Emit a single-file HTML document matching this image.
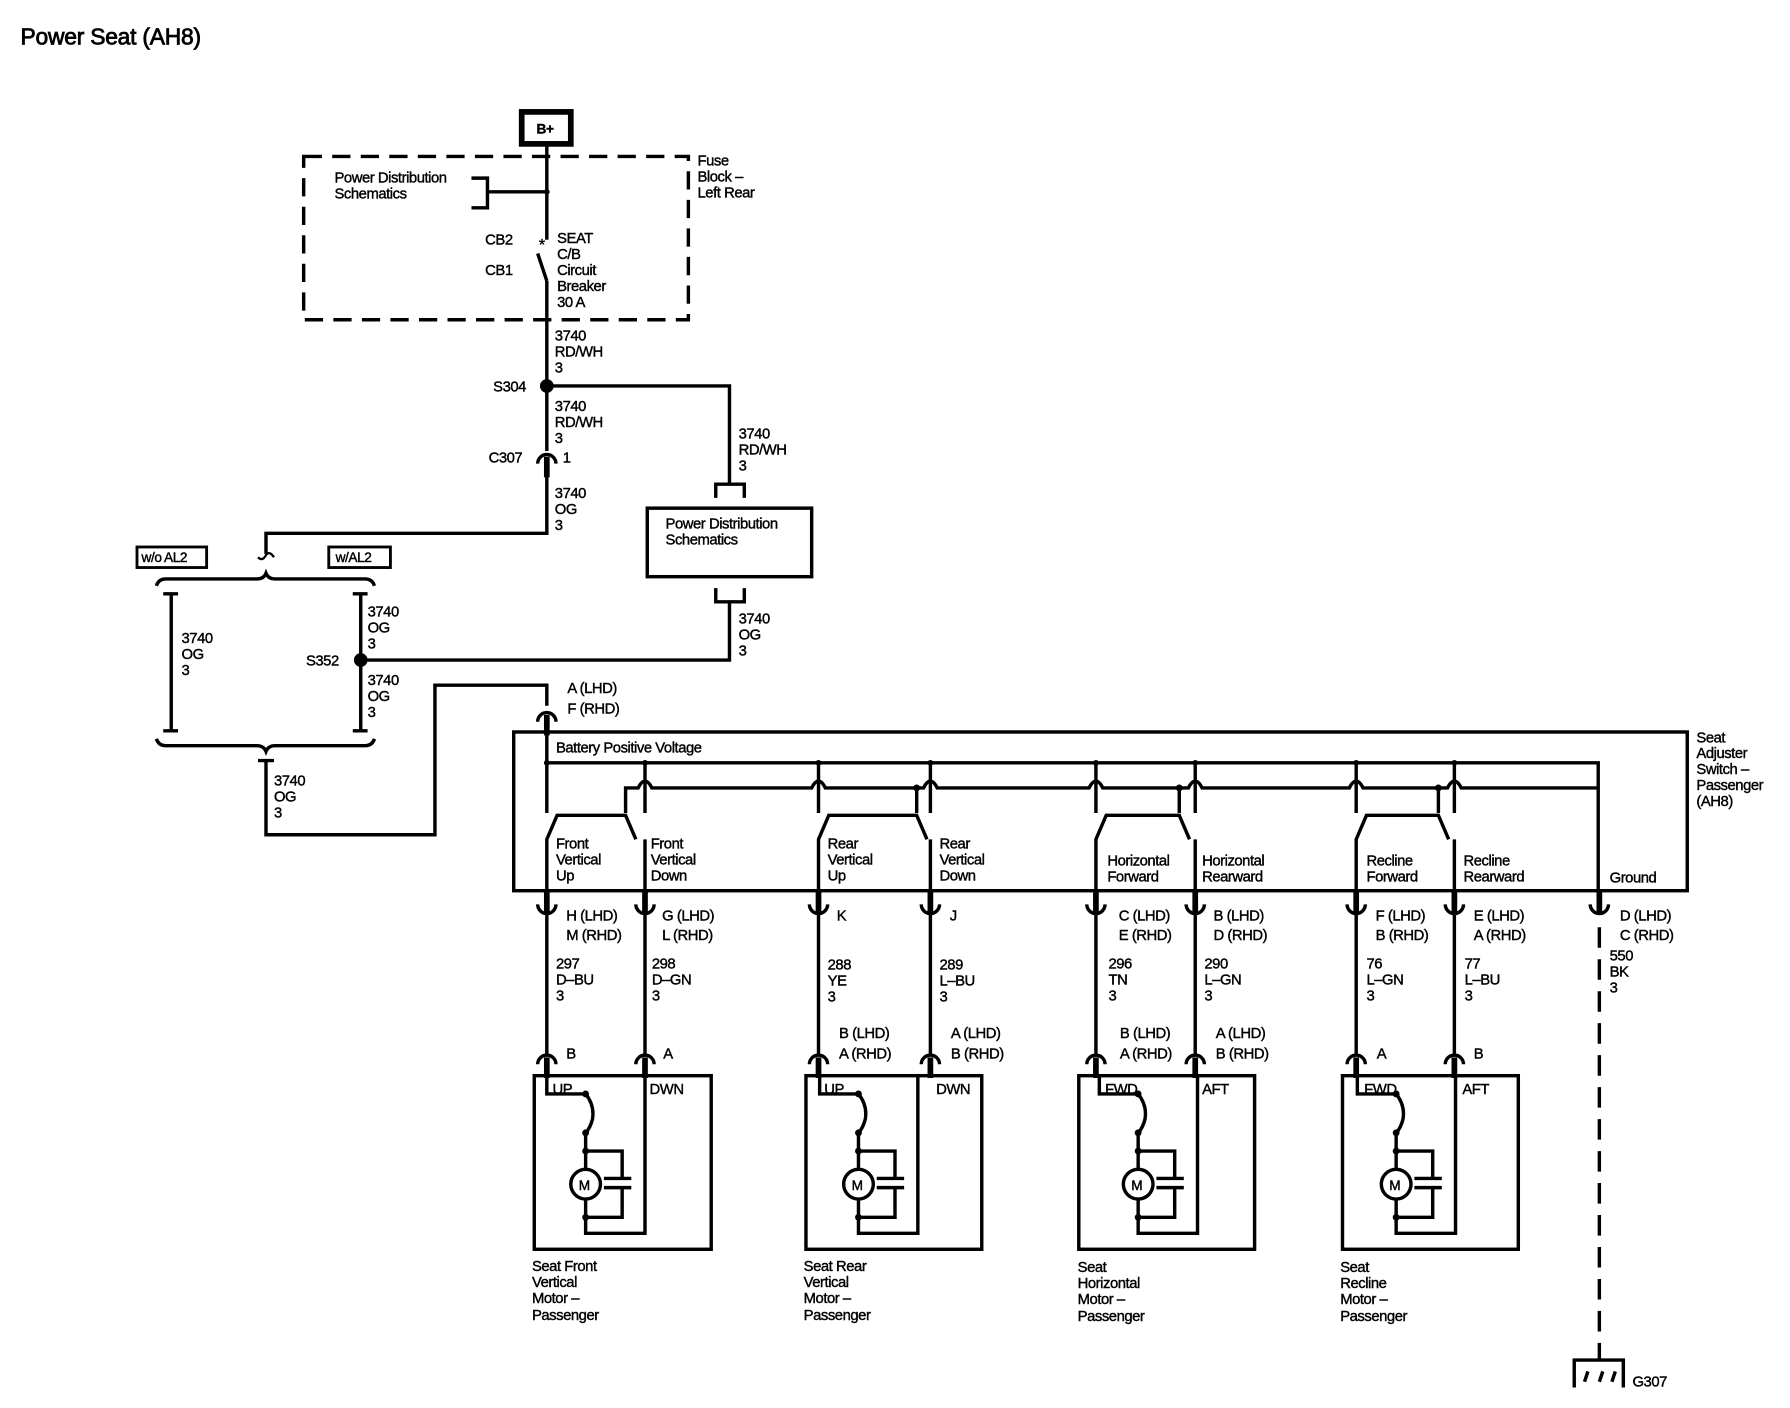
<!DOCTYPE html>
<html><head><meta charset="utf-8"><style>
html,body{margin:0;padding:0;background:#fff}
svg{display:block}
text{font-family:"Liberation Sans",sans-serif;font-size:13px;fill:#000;stroke:#000;stroke-width:0.35px;letter-spacing:-0.4px}
</style></head><body>
<svg width="1790" height="1408" viewBox="0 0 1568 1233" preserveAspectRatio="none" xmlns="http://www.w3.org/2000/svg">
<defs>
<g id="cd"><path d="M-8,-8 a8,8 0 0 0 16,0" fill="none" stroke="#000" stroke-width="3"/><line x1="0" y1="-20" x2="0" y2="0" stroke="#000" stroke-width="5"/></g>
<g id="cu"><path d="M-8,6 a8,8 0 0 1 16,0" fill="none" stroke="#000" stroke-width="3"/><line x1="0" y1="0" x2="0" y2="18" stroke="#000" stroke-width="5"/></g>
<g id="mot">
<path d="M11,0 V16 H45 q8,10 6,22 q-2,8 -6,12 V66 H77 V90 H69 M61,90 H85 M61,98 H85 M77,98 V124 H45 V66 M45,124 V138 H97 V0" fill="none" stroke="#000" stroke-width="3"/>
<circle cx="45" cy="95" r="13" fill="#fff" stroke="#000" stroke-width="3"/>
<text x="39" y="100" style="font-size:12px">M</text>
<circle cx="45" cy="66" r="3"/><circle cx="45" cy="124" r="3"/><circle cx="45" cy="50" r="3"/><circle cx="45" cy="16" r="3"/>
</g>
</defs>
<g stroke="#000" stroke-width="3" fill="none">
<rect x="457" y="98" width="43" height="28" stroke-width="5"/>
<line x1="479" y1="126" x2="479" y2="210"/>
<line x1="479" y1="246" x2="479" y2="395"/>
<line x1="471" y1="222" x2="479" y2="246"/>
<rect x="266" y="137" width="337" height="143" stroke-dasharray="16,9"/>
<path d="M413,156 H427 V182 H413 M427,168 H479"/>
<path d="M479,338 H639 V425"/>
<path d="M627,436 V424 H652 V436"/>
<rect x="567" y="445" width="144" height="60"/>
<path d="M627,515 V527 H652 V515"/>
<path d="M639,527 V578 H316"/>
<path d="M479,410 V467 H233 V485"/>
<path d="M226,488 q4,4 7,-2 q3,-4 7,2" stroke-width="2"/>
<rect x="120" y="479" width="61" height="18" stroke-width="2.5"/>
<rect x="288" y="479" width="54" height="18" stroke-width="2.5"/>
<path d="M137,513 q2,-6 8,-6 H225 q6,0 8,-5 q2,5 8,5 H320 q6,0 8,6"/>
<path d="M150,520 V640 M143,520 H156 M143,640 H156"/>
<path d="M316,520 V640 M309,520 H322 M309,640 H322"/>
<path d="M137,647 q2,6 8,6 H225 q6,0 8,5 q2,-5 8,-5 H320 q6,0 8,-6"/>
<path d="M233,665 V731 H381 V600 H479 V618"/>
<path d="M226,666 H240"/>
<rect x="450" y="641" width="1028" height="139"/>
<line x1="479" y1="635" x2="479" y2="712"/>
<path d="M479,668 H1400 V780"/>
<path d="M548,712 V690 H559 q6,-12 12,0 H711 q6,-12 12,0 H809 q6,-12 12,0 H954 q6,-12 12,0 H1041 q6,-12 12,0 H1182 q6,-12 12,0 H1268 q6,-12 12,0 H1400"/>
<path d="M803,690 V712 M1033,690 V712 M1260,690 V712"/>
<path d="M565,668 V712 M717,668 V712 M815,668 V712 M960,668 V712 M1047,668 V712 M1188,668 V712 M1274,668 V712"/>
<path d="M479,780 V735 L488,714 H548 L557,735 M565,735 V780"/>
<path d="M717,780 V735 L726,714 H803 L812,735 M815,735 V780"/>
<path d="M960,780 V735 L969,714 H1033 L1042,735 M1047,735 V780"/>
<path d="M1188,780 V735 L1197,714 H1260 L1269,735 M1274,735 V780"/>
<path d="M479,800 V925 M565,800 V925 M717,800 V925 M815,800 V925 M960,800 V925 M1047,800 V925 M1188,800 V925 M1274,800 V925"/>
<line x1="1401" y1="812" x2="1401" y2="1190" stroke-dasharray="18,10"/>
<path d="M1379,1215 V1191 H1422 V1215 M1388,1210 l3,-9 M1401,1210 l3,-9 M1412,1210 l3,-9"/>
<rect x="468" y="942" width="155" height="152"/>
<rect x="706" y="942" width="154" height="152"/>
<rect x="945" y="942" width="154" height="152"/>
<rect x="1176" y="942" width="154" height="152"/>
</g>
<circle cx="479" cy="168" r="2.5"/>
<text x="472" y="219" style="font-size:14px">*</text>
<circle cx="479" cy="338" r="6"/>
<circle cx="316" cy="578" r="6"/>
<g fill="#000"><circle cx="479" cy="668" r="2.5"/><circle cx="565" cy="668" r="2.5"/><circle cx="717" cy="668" r="2.5"/><circle cx="815" cy="668" r="2.5"/><circle cx="960" cy="668" r="2.5"/><circle cx="1047" cy="668" r="2.5"/><circle cx="1188" cy="668" r="2.5"/><circle cx="1274" cy="668" r="2.5"/><circle cx="803" cy="690" r="3"/><circle cx="1033" cy="690" r="3"/><circle cx="1260" cy="690" r="3"/></g>
<use href="#cu" x="479" y="400"/>
<use href="#cu" x="479" y="626"/>
<use href="#cd" x="479" y="800"/><use href="#cd" x="565" y="800"/><use href="#cd" x="717" y="800"/><use href="#cd" x="815" y="800"/>
<use href="#cd" x="960" y="800"/><use href="#cd" x="1047" y="800"/><use href="#cd" x="1188" y="800"/><use href="#cd" x="1274" y="800"/><use href="#cd" x="1401" y="800"/>
<use href="#cu" x="479" y="926"/><use href="#cu" x="565" y="926"/><use href="#cu" x="717" y="926"/><use href="#cu" x="815" y="926"/>
<use href="#cu" x="960" y="926"/><use href="#cu" x="1047" y="926"/><use href="#cu" x="1188" y="926"/><use href="#cu" x="1274" y="926"/>
<use href="#mot" x="468" y="942"/><use href="#mot" x="707" y="942"/><use href="#mot" x="952" y="942"/><use href="#mot" x="1178" y="942"/>

<text x="18" y="39" style="font-size:20px;letter-spacing:-0.2px;stroke-width:0.7px">Power Seat (AH8)</text>
<text x="470" y="117" style="font-size:12px;font-weight:bold">B+</text>
<text x="611" y="145">Fuse</text><text x="611" y="159">Block –</text><text x="611" y="173">Left Rear</text>
<text x="293" y="160">Power Distribution</text><text x="293" y="174">Schematics</text>
<text x="425" y="214">CB2</text><text x="425" y="241">CB1</text>
<text x="488" y="213">SEAT</text><text x="488" y="227">C/B</text><text x="488" y="241">Circuit</text><text x="488" y="255">Breaker</text><text x="488" y="269">30 A</text>
<text x="486" y="298">3740</text><text x="486" y="312">RD/WH</text><text x="486" y="326">3</text>
<text x="432" y="343">S304</text>
<text x="486" y="360">3740</text><text x="486" y="374">RD/WH</text><text x="486" y="388">3</text>
<text x="647" y="384">3740</text><text x="647" y="398">RD/WH</text><text x="647" y="412">3</text>
<text x="428" y="405">C307</text><text x="493" y="405">1</text>
<text x="486" y="436">3740</text><text x="486" y="450">OG</text><text x="486" y="464">3</text>
<text x="583" y="463">Power Distribution</text><text x="583" y="477">Schematics</text>
<text x="124" y="492" style="font-size:12px">w/o AL2</text><text x="294" y="492" style="font-size:12px">w/AL2</text>
<text x="159" y="563">3740</text><text x="159" y="577">OG</text><text x="159" y="591">3</text>
<text x="322" y="540">3740</text><text x="322" y="554">OG</text><text x="322" y="568">3</text>
<text x="268" y="583">S352</text>
<text x="322" y="600">3740</text><text x="322" y="614">OG</text><text x="322" y="628">3</text>
<text x="647" y="546">3740</text><text x="647" y="560">OG</text><text x="647" y="574">3</text>
<text x="240" y="688">3740</text><text x="240" y="702">OG</text><text x="240" y="716">3</text>
<text x="497" y="607">A (LHD)</text><text x="497" y="625">F (RHD)</text>
<text x="487" y="659">Battery Positive Voltage</text>
<text x="1486" y="650">Seat</text><text x="1486" y="664">Adjuster</text><text x="1486" y="678">Switch –</text><text x="1486" y="692">Passenger</text><text x="1486" y="706">(AH8)</text>
<text x="487" y="743">Front</text><text x="487" y="757">Vertical</text><text x="487" y="771">Up</text>
<text x="570" y="743">Front</text><text x="570" y="757">Vertical</text><text x="570" y="771">Down</text>
<text x="725" y="743">Rear</text><text x="725" y="757">Vertical</text><text x="725" y="771">Up</text>
<text x="823" y="743">Rear</text><text x="823" y="757">Vertical</text><text x="823" y="771">Down</text>
<text x="970" y="758">Horizontal</text><text x="970" y="772">Forward</text>
<text x="1053" y="758">Horizontal</text><text x="1053" y="772">Rearward</text>
<text x="1197" y="758">Recline</text><text x="1197" y="772">Forward</text>
<text x="1282" y="758">Recline</text><text x="1282" y="772">Rearward</text>
<text x="1410" y="773">Ground</text>
<text x="496" y="806">H (LHD)</text><text x="496" y="823">M (RHD)</text>
<text x="580" y="806">G (LHD)</text><text x="580" y="823">L (RHD)</text>
<text x="733" y="806">K</text><text x="832" y="806">J</text>
<text x="980" y="806">C (LHD)</text><text x="980" y="823">E (RHD)</text>
<text x="1063" y="806">B (LHD)</text><text x="1063" y="823">D (RHD)</text>
<text x="1205" y="806">F (LHD)</text><text x="1205" y="823">B (RHD)</text>
<text x="1291" y="806">E (LHD)</text><text x="1291" y="823">A (RHD)</text>
<text x="1419" y="806">D (LHD)</text><text x="1419" y="823">C (RHD)</text>
<text x="487" y="848">297</text><text x="487" y="862">D–BU</text><text x="487" y="876">3</text>
<text x="571" y="848">298</text><text x="571" y="862">D–GN</text><text x="571" y="876">3</text>
<text x="725" y="849">288</text><text x="725" y="863">YE</text><text x="725" y="877">3</text>
<text x="823" y="849">289</text><text x="823" y="863">L–BU</text><text x="823" y="877">3</text>
<text x="971" y="848">296</text><text x="971" y="862">TN</text><text x="971" y="876">3</text>
<text x="1055" y="848">290</text><text x="1055" y="862">L–GN</text><text x="1055" y="876">3</text>
<text x="1197" y="848">76</text><text x="1197" y="862">L–GN</text><text x="1197" y="876">3</text>
<text x="1283" y="848">77</text><text x="1283" y="862">L–BU</text><text x="1283" y="876">3</text>
<text x="1410" y="841">550</text><text x="1410" y="855">BK</text><text x="1410" y="869">3</text>
<text x="496" y="927">B</text><text x="581" y="927">A</text>
<text x="735" y="909">B (LHD)</text><text x="735" y="927">A (RHD)</text>
<text x="833" y="909">A (LHD)</text><text x="833" y="927">B (RHD)</text>
<text x="981" y="909">B (LHD)</text><text x="981" y="927">A (RHD)</text>
<text x="1065" y="909">A (LHD)</text><text x="1065" y="927">B (RHD)</text>
<text x="1206" y="927">A</text><text x="1291" y="927">B</text>
<text x="484" y="958">UP</text><text x="569" y="958">DWN</text>
<text x="722" y="958">UP</text><text x="820" y="958">DWN</text>
<text x="968" y="958">FWD</text><text x="1053" y="958">AFT</text>
<text x="1195" y="958">FWD</text><text x="1281" y="958">AFT</text>
<text x="466" y="1113">Seat Front</text><text x="466" y="1127">Vertical</text><text x="466" y="1141">Motor –</text><text x="466" y="1156">Passenger</text>
<text x="704" y="1113">Seat Rear</text><text x="704" y="1127">Vertical</text><text x="704" y="1141">Motor –</text><text x="704" y="1156">Passenger</text>
<text x="944" y="1114">Seat</text><text x="944" y="1128">Horizontal</text><text x="944" y="1142">Motor –</text><text x="944" y="1157">Passenger</text>
<text x="1174" y="1114">Seat</text><text x="1174" y="1128">Recline</text><text x="1174" y="1142">Motor –</text><text x="1174" y="1157">Passenger</text>
<text x="1430" y="1214">G307</text>
</svg>
</body></html>
